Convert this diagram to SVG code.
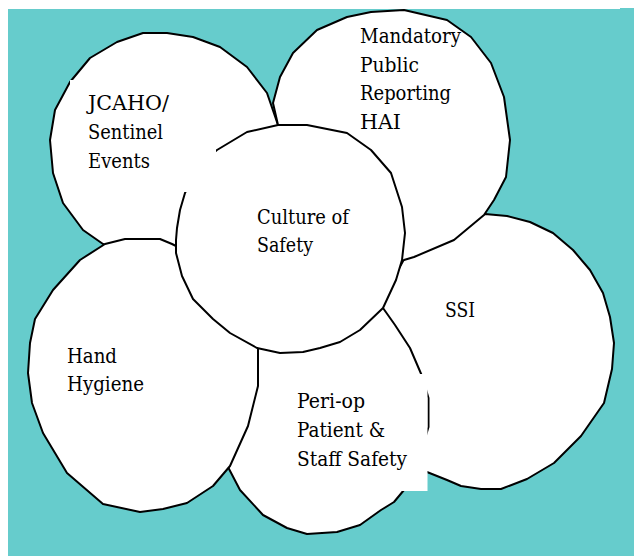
<svg xmlns="http://www.w3.org/2000/svg" width="634" height="556" viewBox="0 0 634 556">
<style>
.bubble{fill:#fff;stroke:#000;stroke-width:2;stroke-linejoin:round}
.lbl{font-family:'DejaVu Serif','Liberation Serif',serif;font-size:21px;fill:#000}
.box{fill:#fff;stroke:none}
</style>
<rect x="0" y="0" width="634" height="556" fill="#fff"/>
<rect x="8" y="9" width="626" height="547" fill="#66CCCC"/>
<rect x="620" y="8" width="14" height="1" fill="#66CCCC"/>
<g id="connectors"></g>
<g id="node-ssi">
<polygon class="bubble" points="485,214 507,216 530,222 553,233 573,250 590,270 603,293 610,317 614,343 612,369 604,403 581,436 554,463 527,479 501,489 481,489 461,486 447,480 427,472 405,458 390,435 380,405 377,370 378,340 380,315 390,285 408,252 440,232 470,218"/>
</g>
<g id="node-jcaho">
<polygon class="bubble" points="103,244 83,230 63,203 53,173 50,140 55,110 70,82 90,58 117,42 143,33 167,33 193,37 220,47 247,67 267,93 278,125 275,170 260,210 235,238 200,256 163,262 130,257"/>
</g>
<g id="node-mandatory">
<polygon class="bubble" points="278,125 273,103 280,77 293,53 317,30 347,17 371,12 404,10 447,20 471,37 491,63 504,97 510,140 506,177 494,200 484,215 454,240 414,257 404,260 380,262 340,250 305,225 285,190 276,155"/>
</g>
<g id="node-periop">
<polygon class="bubble" points="383,308 395,325 410,348 422,376 428.5,398 428.5,427 415,472 404,490 394,502 381,510 360,525 337,532 307,534 287,528 263,515 240,490 228,467 222,440 222,410 228,380 240,355 258,335 290,320 330,305 360,300"/>
</g>
<g id="node-hand">
<polygon class="bubble" points="105,244 125,239 160,239 172,244 176,246 204,260 239,300 250,320 258,349 258,386 248,426 230,466 213,486 187,503 163,509 140,512 103,504 67,473 43,433 32,403 28,373 30,343 35,319 53,290 80,260"/>
</g>
<g id="node-culture">
<polygon class="bubble" points="278,125 307,125 347,133 371,150 391,173 402,207 405,233 402,260 396,280 383,308 360,330 340,342 320,348 303,352 280,353 257,348 230,333 213,319 193,299 182,276 176,253 176,240 177,228 180,210 185,193 195,172 205,160 217,150 247,132"/>
<text class="lbl" x="257" y="224" textLength="92" lengthAdjust="spacingAndGlyphs">Culture of</text>
<text class="lbl" x="257" y="252" textLength="56" lengthAdjust="spacingAndGlyphs">Safety</text>
</g>
<g id="label-jcaho">
<rect class="box" x="70" y="80" width="146" height="112"/>
<text class="lbl" x="88" y="110" textLength="81" lengthAdjust="spacingAndGlyphs">JCAHO/</text>
<text class="lbl" x="88" y="139" textLength="75" lengthAdjust="spacingAndGlyphs">Sentinel</text>
<text class="lbl" x="88" y="168" textLength="62" lengthAdjust="spacingAndGlyphs">Events</text>
</g>
<g id="label-mandatory">
<text class="lbl" x="360" y="43" textLength="101" lengthAdjust="spacingAndGlyphs">Mandatory</text>
<text class="lbl" x="360" y="72" textLength="59" lengthAdjust="spacingAndGlyphs">Public</text>
<text class="lbl" x="360" y="100" textLength="91" lengthAdjust="spacingAndGlyphs">Reporting</text>
<text class="lbl" x="360" y="129" textLength="41" lengthAdjust="spacingAndGlyphs">HAI</text>
</g>
<g id="label-ssi">
<text class="lbl" x="445" y="317" textLength="30" lengthAdjust="spacingAndGlyphs">SSI</text>
</g>
<g id="label-hand">
<text class="lbl" x="67" y="363" textLength="50" lengthAdjust="spacingAndGlyphs">Hand</text>
<text class="lbl" x="67" y="391" textLength="77" lengthAdjust="spacingAndGlyphs">Hygiene</text>
</g>
<g id="label-periop">
<rect class="box" x="290" y="374" width="137.5" height="117"/>
<text class="lbl" x="297" y="408" textLength="68" lengthAdjust="spacingAndGlyphs">Peri-op</text>
<text class="lbl" x="297" y="437" textLength="88" lengthAdjust="spacingAndGlyphs">Patient &amp;</text>
<text class="lbl" x="297" y="466" textLength="110" lengthAdjust="spacingAndGlyphs">Staff Safety</text>
</g>
</svg>
